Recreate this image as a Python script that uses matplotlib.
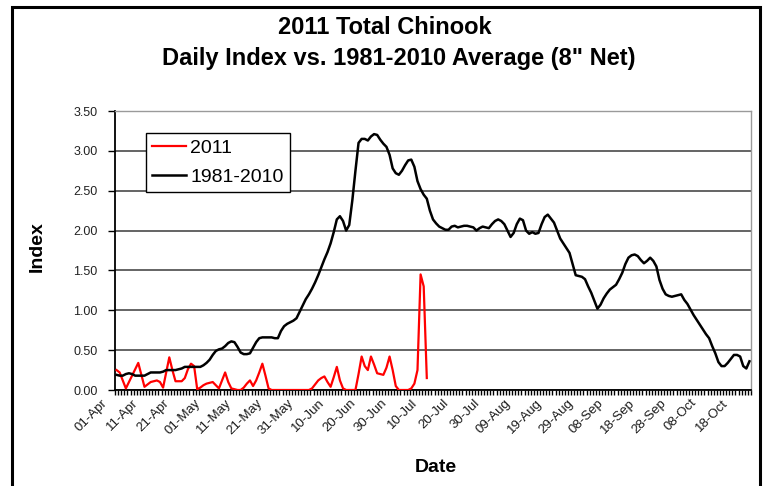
import matplotlib
matplotlib.use('Agg')
import matplotlib.pyplot as plt
from matplotlib.patches import Rectangle
from matplotlib.lines import Line2D
from matplotlib.transforms import ScaledTranslation
import numpy as np

plt.rcParams['font.family'] = ['Liberation Sans', 'DejaVu Sans']

# category labels, one every 10 days starting 01-Apr
date_labels = ['01-Apr', '11-Apr', '21-Apr', '01-May', '11-May', '21-May', '31-May',
               '10-Jun', '20-Jun', '30-Jun', '10-Jul', '20-Jul', '30-Jul', '09-Aug',
               '19-Aug', '29-Aug', '08-Sep', '18-Sep', '28-Sep', '08-Oct', '18-Oct']

# 1981-2010 average daily index, 01-Apr .. 22-Oct
avg_1981_2010 = [
    0.19, 0.18, 0.18, 0.20, 0.21, 0.20, 0.18, 0.18, 0.18, 0.18,
    0.20, 0.22, 0.22, 0.22, 0.22, 0.23, 0.25, 0.25, 0.25, 0.25,
    0.26, 0.27, 0.29, 0.29, 0.29, 0.29, 0.29, 0.29, 0.31, 0.34,
    0.38, 0.44, 0.49, 0.51, 0.52, 0.55, 0.59, 0.61, 0.60, 0.54,
    0.47, 0.45, 0.45, 0.46, 0.53, 0.60, 0.65, 0.66, 0.66, 0.66,
    0.66, 0.65, 0.65, 0.74, 0.80, 0.83, 0.85, 0.87, 0.90, 0.98,
    1.06, 1.14, 1.20, 1.27, 1.35, 1.44, 1.54, 1.64, 1.73, 1.84,
    1.98, 2.14, 2.18, 2.12, 2.00, 2.07, 2.38, 2.75, 3.10, 3.15,
    3.15, 3.13, 3.18, 3.21, 3.20, 3.14, 3.09, 3.05, 2.95, 2.78,
    2.72, 2.70, 2.75, 2.82, 2.88, 2.89, 2.80, 2.62, 2.52, 2.45,
    2.40, 2.25, 2.14, 2.09, 2.05, 2.03, 2.01, 2.01, 2.05, 2.06,
    2.04, 2.05, 2.06, 2.06, 2.05, 2.04, 2.00, 2.03, 2.05, 2.04,
    2.03, 2.08, 2.12, 2.14, 2.12, 2.08, 2.00, 1.92, 1.97, 2.08,
    2.15, 2.13, 2.00, 1.96, 1.98, 1.96, 1.97, 2.08, 2.17, 2.20,
    2.15, 2.10, 2.00, 1.90, 1.84, 1.78, 1.72, 1.58, 1.44, 1.43,
    1.42, 1.39, 1.30, 1.22, 1.12, 1.02, 1.07, 1.15, 1.21, 1.26,
    1.29, 1.32, 1.39, 1.47, 1.58, 1.66, 1.69, 1.70, 1.68, 1.63,
    1.59, 1.62, 1.66, 1.62, 1.55, 1.38, 1.27, 1.20, 1.18, 1.17,
    1.18, 1.19, 1.20, 1.13, 1.08, 1.01, 0.94, 0.88, 0.82, 0.76,
    0.70, 0.65, 0.55, 0.46, 0.35, 0.30, 0.30, 0.34, 0.39, 0.44,
    0.44, 0.42, 0.30, 0.27, 0.36,
]

# 2011 daily index, 01-Apr .. 10-Jul
idx_2011 = [
    0.25, 0.22, 0.12, 0.02, 0.10, 0.18, 0.26, 0.34, 0.19, 0.04,
    0.07, 0.10, 0.11, 0.12, 0.10, 0.03, 0.22, 0.41, 0.25, 0.11,
    0.11, 0.11, 0.15, 0.26, 0.33, 0.30, 0.01, 0.03, 0.06, 0.08,
    0.09, 0.10, 0.06, 0.02, 0.12, 0.22, 0.10, 0.02, 0.01, 0.00,
    0.00, 0.03, 0.08, 0.12, 0.05, 0.12, 0.22, 0.33, 0.18, 0.02,
    0.00, 0.00, 0.00, 0.00, 0.00, 0.00, 0.00, 0.00, 0.00, 0.00,
    0.00, 0.00, 0.00, 0.02, 0.07, 0.12, 0.15, 0.17, 0.10, 0.04,
    0.16, 0.29, 0.12, 0.02, 0.00, 0.00, 0.00, 0.00, 0.20, 0.42,
    0.30, 0.25, 0.42, 0.32, 0.21, 0.20, 0.19, 0.28, 0.42, 0.25,
    0.05, 0.00, 0.00, 0.00, 0.00, 0.02, 0.08, 0.25, 1.45, 1.30,
    0.15,
]

W, H = 766, 486
fig = plt.figure(figsize=(W / 100, H / 100), dpi=100)
ax = fig.add_axes([115 / W, 1 - 390 / H, 636 / W, 279 / H])

n_days = len(avg_1981_2010)
ax.plot(np.arange(len(idx_2011)), idx_2011, color='#ff0000', lw=1.6, zorder=3)
ax.plot(np.arange(n_days), avg_1981_2010, color='black', lw=1.8, zorder=4)

ax.set_xlim(-0.5, n_days - 0.5)
ax.set_ylim(0, 3.5)

yt = np.arange(0, 3.51, 0.5)
ax.set_yticks(yt)
ax.set_yticklabels([f'{v:.2f}' for v in yt], fontsize=9, color='#222222')
ax.tick_params(axis='y', length=5, width=1, pad=7.5, direction='out')
ax.yaxis.grid(True, color='#3a3a3a', lw=1.1)
ax.set_axisbelow(True)

# one small tick per day, labels every 10 days
ax.set_xticks(np.arange(-0.5, n_days, 1), minor=True)
ax.set_xticks(np.arange(0, n_days, 10))
ax.set_xticklabels(date_labels, fontsize=9.5, color='#1a1a1a', rotation=45,
                   ha='right', va='center', rotation_mode='anchor')
ax.tick_params(axis='x', which='major', length=0, pad=8)
ax.tick_params(axis='x', which='minor', length=3.5, width=1, direction='out')
shift = ScaledTranslation(-0.11, 0, fig.dpi_scale_trans)
for lab in ax.get_xticklabels():
    lab.set_transform(lab.get_transform() + shift)

for s in ['top', 'right']:
    ax.spines[s].set_color('#9a9a9a')
    ax.spines[s].set_linewidth(1)
for s in ['left', 'bottom']:
    ax.spines[s].set_color('black')
    ax.spines[s].set_linewidth(1.3)

handles = [Line2D([], [], color='#ff0000', lw=1.6), Line2D([], [], color='black', lw=1.8)]
leg = fig.legend(handles, ['2011', '1981-2010'], loc='upper left',
                 bbox_to_anchor=(146 / W, 1 - 133 / H), borderaxespad=0,
                 fontsize=14, handlelength=1.75, handletextpad=0.2,
                 labelspacing=0.6, borderpad=0.32, fancybox=False, framealpha=1)
leg.get_frame().set_edgecolor('black')
leg.get_frame().set_linewidth(1.0)

fig.text(385 / W, 1 - 28 / H, '2011 Total Chinook', ha='center', va='center',
         fontsize=17, weight='bold')
fig.text(399 / W, 1 - 59 / H, 'Daily Index vs. 1981-2010 Average (8" Net)',
         ha='center', va='center', fontsize=17, weight='bold')
fig.text(37 / W, 1 - 247 / H, 'Index', rotation=90, ha='center', va='center',
         fontsize=14, weight='bold')
fig.text(436 / W, 1 - 467 / H, 'Date', ha='center', va='center',
         fontsize=14, weight='bold')

# outer chart frame (bottom edge falls outside the picture)
fig.add_artist(Rectangle((12 / W, -0.1), 748 / W, 1.1 - 7 / H,
                         transform=fig.transFigure, fill=False,
                         edgecolor='black', lw=2.2))

fig.savefig('out.png', dpi=100)
